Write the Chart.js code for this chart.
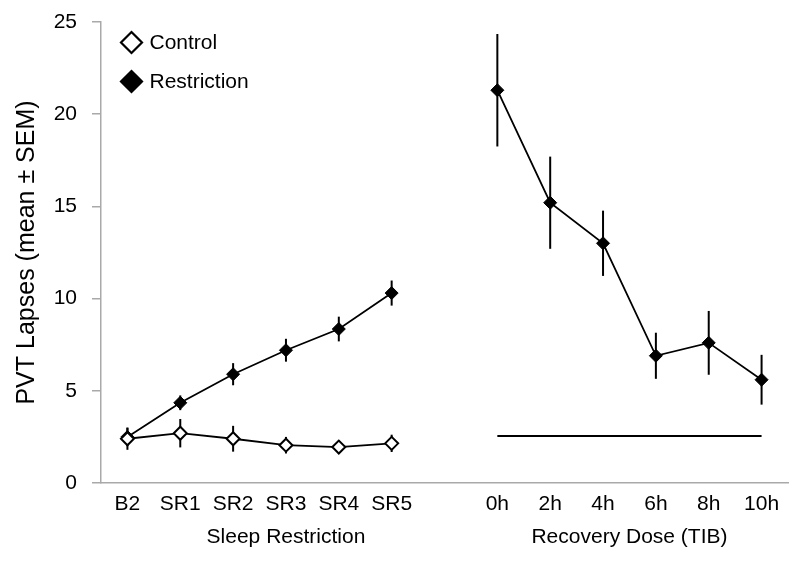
<!DOCTYPE html>
<html><head><meta charset="utf-8">
<script src="https://cdn.jsdelivr.net/npm/chart.js@4"></script>
<style>html,body{margin:0;padding:0;background:#fff}</style>
</head><body>
<canvas id="c" width="800" height="562"></canvas>
<script>
// ---- data ----
const categories = ['B2','SR1','SR2','SR3','SR4','SR5','','0h','2h','4h','6h','8h','10h'];
const controlValues = [2.4, 2.7, 2.4, 2.05, 1.95, 2.15, null, null, null, null, null, null, null];
const controlSem    = [0.6, 0.77, 0.7, 0.45, 0.35, 0.47, null, null, null, null, null, null, null];
const restrictionValues = [2.5, 4.35, 5.9, 7.2, 8.35, 10.3, null, 21.3, 15.2, 13.0, 6.9, 7.6, 5.6];
const restrictionSem    = [0.5, 0.4, 0.6, 0.62, 0.67, 0.68, null, 3.05, 2.5, 1.77, 1.25, 1.73, 1.35];
const controlReference  = [null, null, null, null, null, null, null, 2.55, 2.55, 2.55, 2.55, 2.55, 2.55];
const groupLabels = ['Sleep Restriction', 'Recovery Dose (TIB)'];
const groupRanges = [[0, 6], [7, 12]];
const yTitle = 'PVT Lapses (mean \u00b1 SEM)';

const FONT = "'Liberation Sans', Arial, sans-serif";
const AXIS_COLOR = '#a9a9a9';
Chart.defaults.font.family = FONT;
Chart.defaults.color = '#000';

const errorBars = {
  id: 'errorBars',
  beforeDatasetsDraw(chart) {
    const ctx = chart.ctx, y = chart.scales.y;
    chart.data.datasets.forEach((ds, i) => {
      if (!ds.sem) return;
      const meta = chart.getDatasetMeta(i);
      ctx.save();
      ctx.strokeStyle = '#000';
      ctx.lineWidth = 2;
      ds.data.forEach((v, j) => {
        const e = ds.sem[j];
        if (v == null || e == null) return;
        const x = meta.data[j].x;
        ctx.beginPath();
        ctx.moveTo(x, y.getPixelForValue(v + e));
        ctx.lineTo(x, y.getPixelForValue(v - e));
        ctx.stroke();
      });
      ctx.restore();
    });
  }
};

const extras = {
  id: 'extras',
  afterDraw(chart) {
    const ctx = chart.ctx, x = chart.scales.x, area = chart.chartArea;
    ctx.save();
    // group titles under the category axis
    ctx.font = '21px ' + FONT;
    ctx.fillStyle = '#000';
    ctx.textAlign = 'center';
    ctx.textBaseline = 'middle';
    groupLabels.forEach((lab, k) => {
      const [a, b] = groupRanges[k];
      const cx = (x.getPixelForValue(a) + x.getPixelForValue(b)) / 2;
      ctx.fillText(lab, cx, 537);
    });
    // legend inside plot area
    [0, 1].forEach((di, k) => {
      const ds = chart.data.datasets[di];
      const lx = area.left + 30.5, ly = area.top + 20.5 + k * 39;
      const r = 10.5;
      ctx.beginPath();
      ctx.moveTo(lx, ly - r); ctx.lineTo(lx + r, ly); ctx.lineTo(lx, ly + r); ctx.lineTo(lx - r, ly); ctx.closePath();
      ctx.fillStyle = ds.pointBackgroundColor;
      ctx.fill();
      ctx.lineWidth = 2.2;
      ctx.strokeStyle = '#000';
      ctx.stroke();
      ctx.fillStyle = '#000';
      ctx.textAlign = 'left';
      ctx.font = '21px ' + FONT;
      ctx.fillText(ds.label, lx + 18, ly + 1);
    });
    ctx.restore();
  }
};

new Chart(document.getElementById('c'), {
  type: 'line',
  data: {
    labels: categories,
    datasets: [
      { label: 'Control', data: controlValues, sem: controlSem,
        borderColor: '#000', borderWidth: 1.8, tension: 0, spanGaps: false,
        pointStyle: 'rectRot', pointRadius: 6.5, pointBackgroundColor: '#fff',
        pointBorderColor: '#000', pointBorderWidth: 2 },
      { label: 'Restriction', data: restrictionValues, sem: restrictionSem,
        borderColor: '#000', borderWidth: 1.8, tension: 0, spanGaps: false,
        pointStyle: 'rectRot', pointRadius: 6.5, pointBackgroundColor: '#000',
        pointBorderColor: '#000', pointBorderWidth: 1 },
      { label: 'Control mean', data: controlReference,
        borderColor: '#000', borderWidth: 2.2, pointRadius: 0, spanGaps: false }
    ]
  },
  options: {
    responsive: false,
    animation: false,
    events: [],
    layout: { padding: { top: 22, right: 12, left: 0, bottom: 0 } },
    plugins: { legend: { display: false }, tooltip: { enabled: false } },
    scales: {
      x: {
        offset: true,
        grid: { display: false, offset: true },
        border: { display: true, color: AXIS_COLOR, width: 1.5 },
        ticks: { font: { size: 21 }, color: '#000', padding: 1, maxRotation: 0, autoSkip: false },
        afterFit(s) { s.height = 79; s.paddingLeft = 0; s.paddingRight = 0; }
      },
      y: {
        min: 0, max: 25,
        ticks: { stepSize: 5, font: { size: 21 }, color: '#000', padding: 15 },
        grid: { drawOnChartArea: false, drawTicks: true, tickLength: 9, color: AXIS_COLOR, lineWidth: 1.5 },
        border: { display: true, color: AXIS_COLOR, width: 1.5 },
        title: { display: true, text: yTitle, font: { size: 25 }, color: '#000', padding: { top: 12, bottom: 0 } },
        afterFit(s) { s.width = 101; s.paddingTop = 0; s.paddingBottom = 0; }
      }
    }
  },
  plugins: [errorBars, extras]
});
</script>
</body></html>
